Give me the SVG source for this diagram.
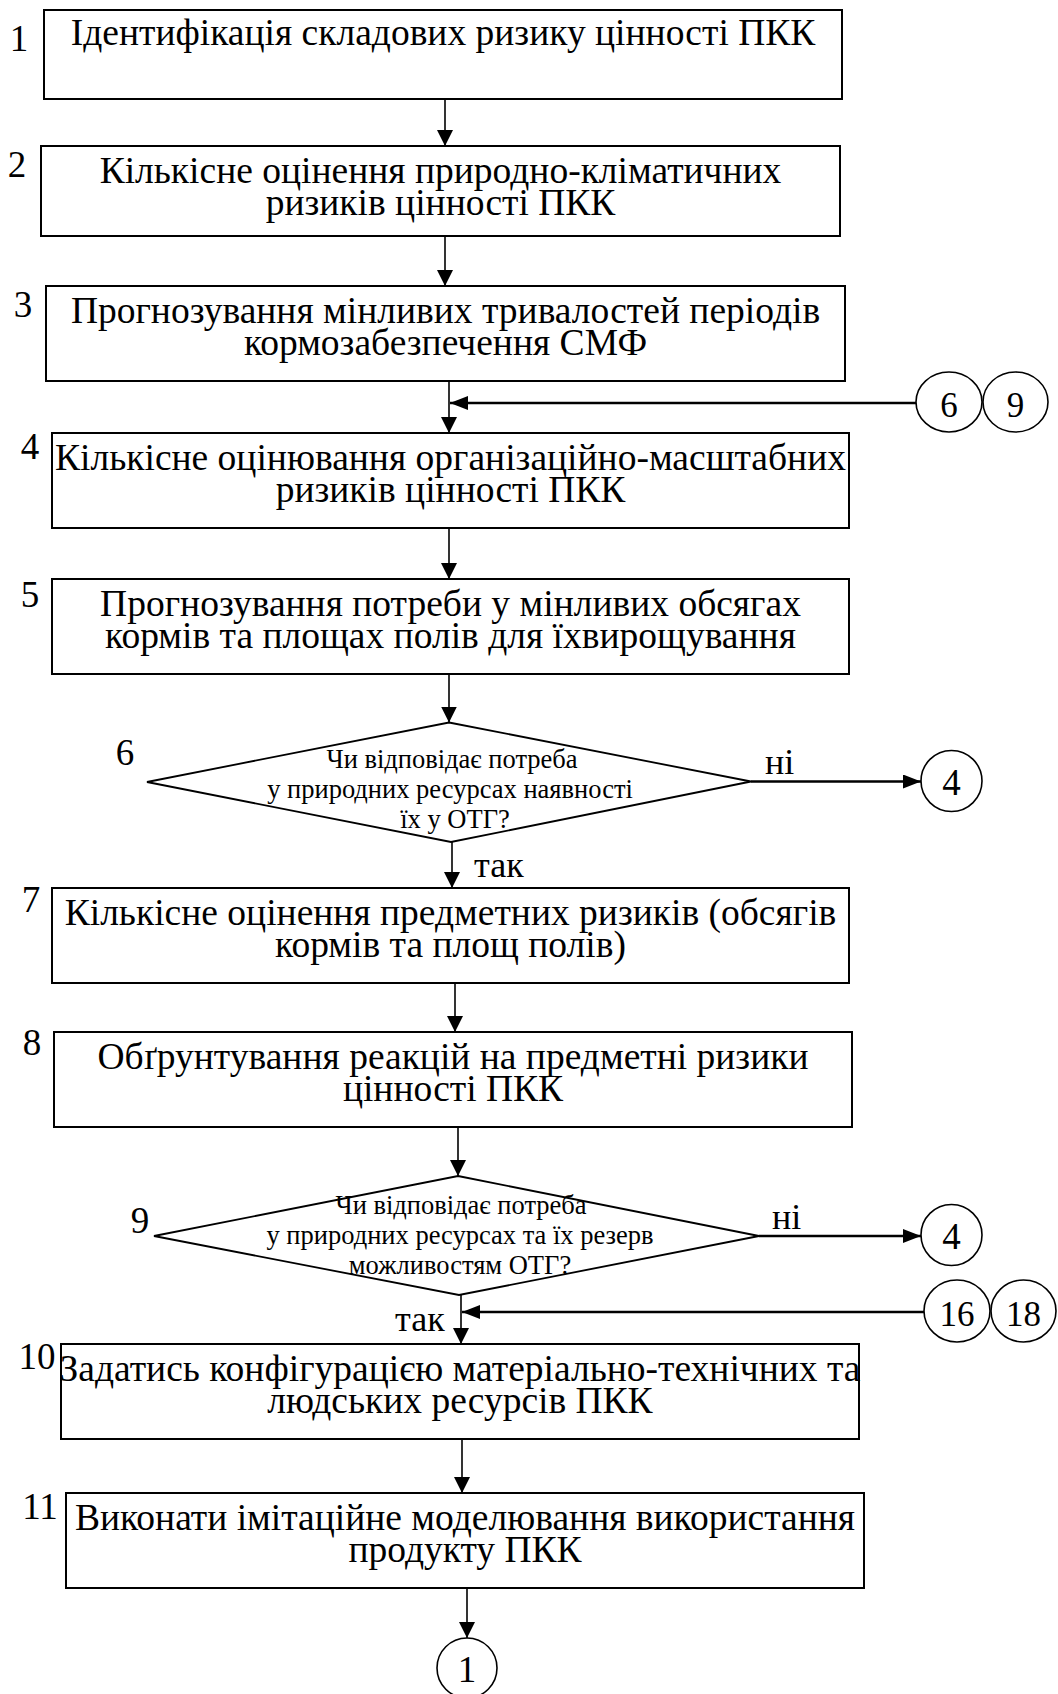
<svg xmlns="http://www.w3.org/2000/svg" width="1058" height="1694" viewBox="0 0 1058 1694">
<style>
  text { font-family: "Liberation Serif", "Times New Roman", serif; fill: #000; }
  .box { fill: #fff; stroke: #000; stroke-width: 2; }
  .dia { fill: #fff; stroke: #000; stroke-width: 1.8; }
  .circ { fill: #fff; stroke: #000; stroke-width: 1.6; }
  .t { font-size: 37.5px; text-anchor: middle; }
  .num { font-size: 37px; text-anchor: middle; }
  .dt { font-size: 26.5px; text-anchor: middle; }
  .lbl { font-size: 36px; }
  .cd { font-size: 37px; text-anchor: middle; }
  .cs { font-size: 35px; text-anchor: middle; }
  .ln { fill: none; stroke: #000; stroke-width: 1.6; }
  .lnb { fill: none; stroke: #000; stroke-width: 2.6; }
</style>
<defs>
  <marker id="ah" markerUnits="userSpaceOnUse" markerWidth="16" markerHeight="16" viewBox="0 0 16 16" refX="16" refY="8" orient="auto">
    <path d="M0,0 L16,8 L0,16 z" fill="#000"/>
  </marker>
  <marker id="ahh" markerUnits="userSpaceOnUse" markerWidth="18" markerHeight="14" viewBox="0 0 18 14" refX="18" refY="7" orient="auto">
    <path d="M0,0 L18,7 L0,14 z" fill="#000"/>
  </marker>
</defs>

<g id="connectors">
  <path class="ln" d="M445,99 V146" marker-end="url(#ah)"/>
  <path class="ln" d="M445,236 V286" marker-end="url(#ah)"/>
  <path class="ln" d="M449,381 V433" marker-end="url(#ah)"/>
  <path class="lnb" d="M916,403 H450" marker-end="url(#ahh)"/>
  <path class="ln" d="M449,528 V579" marker-end="url(#ah)"/>
  <path class="ln" d="M449,674 V722.5" marker-end="url(#ah)"/>
  <path class="ln" d="M452,842 V888" marker-end="url(#ah)"/>
  <path class="lnb" d="M751,781.5 H921" marker-end="url(#ahh)"/>
  <path class="ln" d="M455,983 V1032" marker-end="url(#ah)"/>
  <path class="ln" d="M458,1127 V1176" marker-end="url(#ah)"/>
  <path class="lnb" d="M759,1236 H921" marker-end="url(#ahh)"/>
  <path class="ln" d="M461,1295 V1344" marker-end="url(#ah)"/>
  <path class="lnb" d="M924,1312 H462" marker-end="url(#ahh)"/>
  <path class="ln" d="M462,1439 V1493" marker-end="url(#ah)"/>
  <path class="ln" d="M467,1588 V1638" marker-end="url(#ah)"/>
</g>

<g id="node1">
  <rect class="box" x="44" y="10" width="798" height="89"/>
  <text class="t" x="443" y="45">Ідентифікація складових ризику цінності ПКК</text>
  <text class="num" x="19" y="51">1</text>
</g>
<g id="node2">
  <rect class="box" x="41" y="146" width="799" height="90"/>
  <text class="t" x="440.5" y="183">Кількісне оцінення природно-кліматичних</text>
  <text class="t" x="440.5" y="215">ризиків цінності ПКК</text>
  <text class="num" x="17" y="177">2</text>
</g>
<g id="node3">
  <rect class="box" x="46" y="286" width="799" height="95"/>
  <text class="t" x="445.5" y="323">Прогнозування мінливих тривалостей періодів</text>
  <text class="t" x="445.5" y="355">кормозабезпечення СМФ</text>
  <text class="num" x="23" y="317">3</text>
</g>
<g id="node4">
  <rect class="box" x="52" y="433" width="797" height="95"/>
  <text class="t" x="450.5" y="470">Кількісне оцінювання організаційно-масштабних</text>
  <text class="t" x="450.5" y="502">ризиків цінності ПКК</text>
  <text class="num" x="30" y="459">4</text>
</g>
<g id="node5">
  <rect class="box" x="52" y="579" width="797" height="95"/>
  <text class="t" x="450.5" y="616">Прогнозування потреби у мінливих обсягах</text>
  <text class="t" x="450.5" y="648">кормів та площах полів для їхвирощування</text>
  <text class="num" x="30" y="607">5</text>
</g>
<g id="node6">
  <polygon class="dia" points="449,722.5 751,781.5 451,842 147,782"/>
  <text class="dt" x="452" y="768">Чи відповідає потреба</text>
  <text class="dt" x="450" y="798">у природних ресурсах наявності</text>
  <text class="dt" x="455" y="828">їх у ОТГ?</text>
  <text class="num" x="125" y="765">6</text>
  <text class="lbl" x="765" y="774">ні</text>
  <text class="lbl" x="474" y="877">так</text>
</g>
<g id="node6-connector-4">
  <ellipse class="circ" cx="951.5" cy="781" rx="30.5" ry="30.5"/>
  <text class="cd" x="951.5" y="795">4</text>
</g>
<g id="node7">
  <rect class="box" x="52" y="888" width="797" height="95"/>
  <text class="t" x="450.5" y="925">Кількісне оцінення предметних ризиків (обсягів</text>
  <text class="t" x="450.5" y="957">кормів та площ полів)</text>
  <text class="num" x="31" y="912">7</text>
</g>
<g id="node8">
  <rect class="box" x="54" y="1032" width="798" height="95"/>
  <text class="t" x="453" y="1069">Обґрунтування реакцій на предметні ризики</text>
  <text class="t" x="453" y="1101">цінності ПКК</text>
  <text class="num" x="32" y="1055">8</text>
</g>
<g id="node9">
  <polygon class="dia" points="458,1176 759,1236 459,1295 154,1236"/>
  <text class="dt" x="461" y="1214">Чи відповідає потреба</text>
  <text class="dt" x="460" y="1244">у природних ресурсах та їх резерв</text>
  <text class="dt" x="460" y="1274">можливостям ОТГ?</text>
  <text class="num" x="140" y="1233">9</text>
  <text class="lbl" x="772" y="1229">ні</text>
  <text class="lbl" x="395" y="1331">так</text>
</g>
<g id="node9-connector-4">
  <ellipse class="circ" cx="951.5" cy="1235" rx="30.5" ry="30.5"/>
  <text class="cd" x="951.5" y="1249">4</text>
</g>
<g id="connector-6-9">
  <ellipse class="circ" cx="949" cy="402" rx="33" ry="30"/>
  <text class="cs" x="949" y="417">6</text>
  <ellipse class="circ" cx="1015.5" cy="402" rx="32.5" ry="30"/>
  <text class="cs" x="1015.5" y="417">9</text>
</g>
<g id="connector-16-18">
  <ellipse class="circ" cx="957" cy="1311" rx="33" ry="31"/>
  <text class="cs" x="957" y="1326">16</text>
  <ellipse class="circ" cx="1023.5" cy="1311" rx="32.5" ry="31"/>
  <text class="cs" x="1023.5" y="1326">18</text>
</g>
<g id="node10">
  <rect class="box" x="61" y="1344" width="798" height="95"/>
  <text class="t" x="460" y="1381">Задатись конфігурацією матеріально-технічних та</text>
  <text class="t" x="460" y="1413">людських ресурсів ПКК</text>
  <text class="num" x="37" y="1369">10</text>
</g>
<g id="node11">
  <rect class="box" x="66" y="1493" width="798" height="95"/>
  <text class="t" x="465" y="1530">Виконати імітаційне моделювання використання</text>
  <text class="t" x="465" y="1562">продукту ПКК</text>
  <text class="num" x="40" y="1519">11</text>
</g>
<g id="connector-1">
  <ellipse class="circ" cx="467" cy="1668" rx="30" ry="30"/>
  <text class="cd" x="467" y="1682">1</text>
</g>
</svg>
